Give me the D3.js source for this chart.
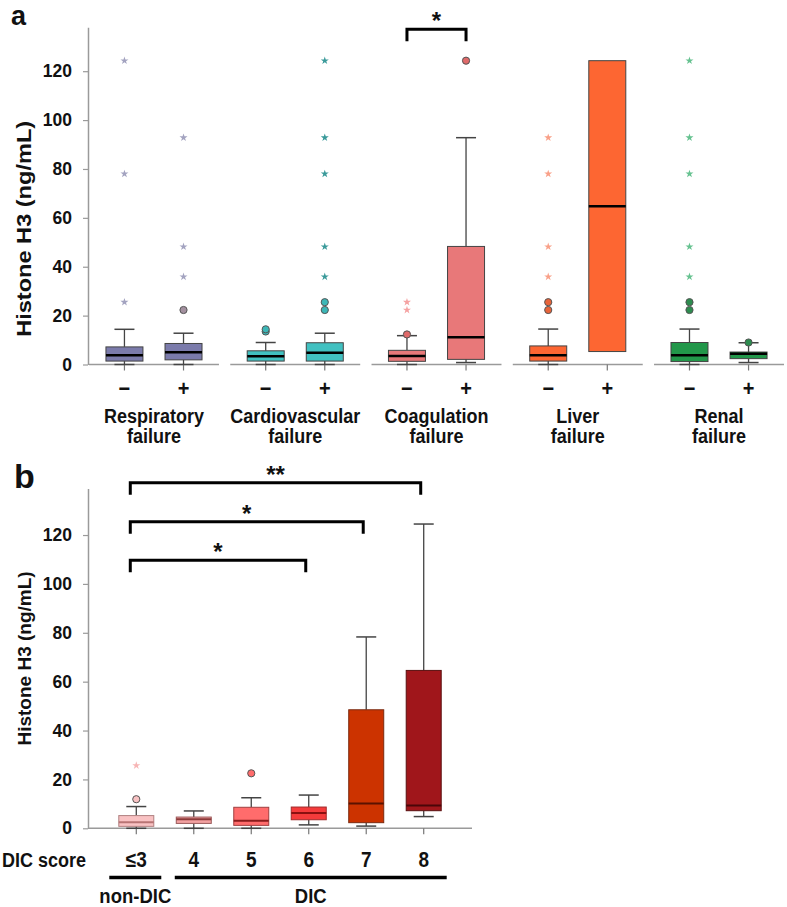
<!DOCTYPE html>
<html>
<head>
<meta charset="utf-8">
<script src="https://cdn.jsdelivr.net/npm/d3@7/dist/d3.min.js"></script>
<style>
  html, body { margin: 0; padding: 0; background: #fff; }
  svg { display: block; font-family: "Liberation Sans", Arial, sans-serif; }
  text { font-weight: bold; fill: #111; }
</style>
</head>
<body>
<svg id="chart" width="787" height="907"></svg>
<script>
// ---------------- Panel a data ----------------
const aGroups = ["Respiratory failure", "Cardiovascular failure", "Coagulation failure", "Liver failure", "Renal failure"];
const aGroupLine1 = ["Respiratory", "Cardiovascular", "Coagulation", "Liver", "Renal"];
const aGroupLine2 = ["failure", "failure", "failure", "failure", "failure"];
const aConditions = ["−", "+"];
// order: Resp-, Resp+, Cardio-, Cardio+, Coag-, Coag+, Liver-, Liver+, Renal-, Renal+
const aWhiskerLow  = [0,    0,    0,    0,    0,    0.8,  0,    5.3,   0,    0.8];
const aQ1          = [1.4,  1.9,  1.4,  1.4,  1.3,  2.1,  1.4,  5.3,   1.2,  2.4];
const aMedian      = [3.8,  5.0,  3.4,  4.8,  3.5,  11.1, 3.8,  64.7,  3.8,  4.4];
const aQ3          = [7.2,  8.6,  5.6,  8.9,  5.8,  48.3, 7.6,  124.3, 9.0,  5.1];
const aWhiskerHigh = [14.4, 12.8, 9.0,  12.8, 11.8, 92.8, 14.5, 124.3, 14.5, 8.9];
const aCircles = [[], [22.3], [13.5, 14.4], [22.3, 25.5], [12.3], [124.3], [22.3, 25.5], [], [22.3, 25.5], [9.0]];
const aStars   = [[25.5, 78, 124.3], [35.9, 48.2, 92.8], [], [35.9, 48.2, 78, 92.8, 124.3], [22.3, 25.5], [], [35.9, 48.2, 78, 92.8], [], [35.9, 48.2, 78, 92.8, 124.3], []];
const aBoxFill    = ["#7b7bab", "#41c1c1", "#e87879", "#fd6632", "#22974a"];
const aCircleFill = ["#a3909f", "#3cb7b7", "#e06a6a", "#e8643a", "#2d8c4f"];
const aStarFill   = ["#a3a3c0", "#3a9a9a", "#f5a2a2", "#f9a088", "#66c290"];
const aYTicks = [0, 20, 40, 60, 80, 100, 120];
const aSig = [{group: "Coagulation failure", from: "−", to: "+", level: 137.2, label: "*"}];

// ---------------- Panel b data ----------------
const bCategories = ["≤3", "4", "5", "6", "7", "8"];
const bWhiskerLow  = [0,   0,   0,    1.4,  0.9,  4.8];
const bQ1          = [0.8, 2.0, 1.2,  3.5,  2.3,  7.2];
const bMedian      = [2.5, 3.7, 3.1,  6.3,  10.1, 9.3];
const bQ3          = [5.2, 4.6, 8.6,  8.7,  48.5, 64.6];
const bWhiskerHigh = [8.9, 7.1, 12.5, 13.6, 78.3, 124.5];
const bCircles = [[11.9], [], [22.5], [], [], []];
const bStars   = [[25.7], [], [], [], [], []];
const bBoxFill    = ["#f9c2c3", "#f2a1a1", "#ff6c6c", "#f43b3b", "#cc3300", "#a0161b"];
const bMedianCol  = ["#b87474", "#8c3a3a", "#8a1c1c", "#8a1010", "#5a1200", "#4a0609"];
const bBoxStroke  = ["#b08080", "#9a5a5a", "#a04040", "#a02a2a", "#7a2a10", "#5a1010"];
const bYTicks = [0, 20, 40, 60, 80, 100, 120];
const bSig = [
  {from: "≤3", to: "8", level: 141.4, label: "**"},
  {from: "≤3", to: "7", level: 125.4, label: "*"},
  {from: "≤3", to: "6", level: 109.7, label: "*"}
];
const bGroupSpans = [{label: "non-DIC", from: "≤3", to: "≤3"}, {label: "DIC", from: "4", to: "8"}];

// ---------------- drawing ----------------
const svg = d3.select("#chart");
const axisGray = "#9a9a9a";
const whiskerCol = "#444";
const vStretch = 1.12;

function label(g, txt, x, y, fs, anchor) {
  return g.append("text").text(txt)
    .attr("transform", `translate(${x},${y}) scale(1,${vStretch})`)
    .attr("text-anchor", anchor || "middle").attr("font-size", fs);
}

function styleYAxis(g) {
  g.select(".domain").attr("stroke", axisGray).attr("stroke-width", 1.5);
  g.selectAll(".tick line").attr("stroke", axisGray).attr("stroke-width", 1.2);
  g.selectAll(".tick text").attr("font-size", 17.5).attr("font-weight", "bold").attr("fill", "#111");
}

function drawBox(g, cx, bw, vals, y, fill, stroke, medCol, medW) {
  const capW = 20;
  if (vals.wh > vals.q3) {
    g.append("line").attr("x1", cx).attr("x2", cx).attr("y1", y(vals.q3)).attr("y2", y(vals.wh)).attr("stroke", whiskerCol).attr("stroke-width", 1.3);
    g.append("line").attr("x1", cx - capW/2).attr("x2", cx + capW/2).attr("y1", y(vals.wh)).attr("y2", y(vals.wh)).attr("stroke", whiskerCol).attr("stroke-width", 1.5);
  }
  if (vals.wl < vals.q1) {
    g.append("line").attr("x1", cx).attr("x2", cx).attr("y1", y(vals.q1)).attr("y2", y(vals.wl)).attr("stroke", whiskerCol).attr("stroke-width", 1.3);
    g.append("line").attr("x1", cx - capW/2).attr("x2", cx + capW/2).attr("y1", y(vals.wl)).attr("y2", y(vals.wl)).attr("stroke", whiskerCol).attr("stroke-width", 1.5);
  }
  g.append("rect").attr("x", cx - bw/2).attr("width", bw)
    .attr("y", y(vals.q3)).attr("height", y(vals.q1) - y(vals.q3))
    .attr("fill", fill).attr("stroke", stroke).attr("stroke-width", 1);
  g.append("line").attr("x1", cx - bw/2).attr("x2", cx + bw/2)
    .attr("y1", y(vals.med)).attr("y2", y(vals.med)).attr("stroke", medCol).attr("stroke-width", medW);
}

function drawOutliers(g, cx, circles, stars, y, cFill, sFill) {
  const star = d3.symbol().type(d3.symbolStar).size(20);
  stars.forEach(v => {
    g.append("path").attr("d", star()).attr("transform", `translate(${cx},${y(v)})`).attr("fill", sFill);
  });
  circles.forEach(v => {
    g.append("circle").attr("cx", cx).attr("cy", y(v)).attr("r", 3.6)
      .attr("fill", cFill).attr("stroke", "#555").attr("stroke-width", 1);
  });
}

// ======== Panel a ========
const yA = d3.scaleLinear().domain([0, 138]).range([364.5, 27.2]);
const xA = d3.scaleBand().domain(aGroups).range([89, 784]).paddingInner(0.08).paddingOuter(0);
const xAin = d3.scalePoint().domain(aConditions).range([0, xA.bandwidth()]).padding(0.6);

const gA = svg.append("g");
const yAxisA = gA.append("g").attr("transform", "translate(88,0)")
  .call(d3.axisLeft(yA).tickValues(aYTicks).tickSizeInner(5).tickSizeOuter(0).tickPadding(11));
styleYAxis(yAxisA);

gA.append("text").text("a").attr("x", 11).attr("y", 25).attr("font-size", 27);

gA.append("text").text("Histone H3 (ng/mL)")
  .attr("transform", `translate(31,${yA(55.5)}) rotate(-90) scale(1.15,1)`)
  .attr("text-anchor", "middle").attr("font-size", 20.5);

aGroups.forEach((grp, gi) => {
  const x0 = xA(grp);
  const y0 = yA(0);
  gA.append("line").attr("x1", x0).attr("x2", x0 + xA.bandwidth()).attr("y1", y0).attr("y2", y0)
    .attr("stroke", axisGray).attr("stroke-width", 1.5);
  aConditions.forEach((cond, ci) => {
    const idx = gi * 2 + ci;
    const cx = x0 + xAin(cond);
    gA.append("line").attr("x1", cx).attr("x2", cx).attr("y1", y0).attr("y2", y0 + 6)
      .attr("stroke", "#777").attr("stroke-width", 1.2);
    drawBox(gA, cx, 37, {wl: aWhiskerLow[idx], q1: aQ1[idx], med: aMedian[idx], q3: aQ3[idx], wh: aWhiskerHigh[idx]},
      yA, aBoxFill[gi], "#444", "#000", 2.5);
    drawOutliers(gA, cx, aCircles[idx], aStars[idx], yA, aCircleFill[gi], aStarFill[gi]);
    label(gA, cond, cx, 396, 20);
  });
  const gc = x0 + xA.bandwidth() / 2;
  label(gA, aGroupLine1[gi], gc, 423, 18);
  label(gA, aGroupLine2[gi], gc, 443, 18);
});

aSig.forEach(s => {
  const x1 = xA(s.group) + xAin(s.from);
  const x2 = xA(s.group) + xAin(s.to);
  const yy = yA(s.level);
  gA.append("path").attr("d", `M${x1},${yy + 12}V${yy}H${x2}V${yy + 12}`)
    .attr("fill", "none").attr("stroke", "#000").attr("stroke-width", 3);
  gA.append("text").text(s.label).attr("x", (x1 + x2) / 2).attr("y", yy).attr("text-anchor", "middle").attr("font-size", 24);
});

// ======== Panel b ========
const yB = d3.scaleLinear().domain([0, 139]).range([828.3, 488.6]);
const xB = d3.scalePoint().domain(bCategories).range([88, 472]).padding(0.84);

const gB = svg.append("g");
const yAxisB = gB.append("g").attr("transform", "translate(88,0)")
  .call(d3.axisLeft(yB).tickValues(bYTicks).tickSizeInner(5).tickSizeOuter(0).tickPadding(11));
styleYAxis(yAxisB);

gB.append("text").text("b").attr("x", 14).attr("y", 488).attr("font-size", 34);

gB.append("text").text("Histone H3 (ng/mL)")
  .attr("transform", `translate(31,${yB(69.5)}) rotate(-90)`)
  .attr("text-anchor", "middle").attr("font-size", 19);

const yb0 = yB(0);
gB.append("line").attr("x1", 88).attr("x2", 472).attr("y1", yb0).attr("y2", yb0)
  .attr("stroke", axisGray).attr("stroke-width", 1.5);

bCategories.forEach((c, i) => {
  const cx = xB(c);
  gB.append("line").attr("x1", cx).attr("x2", cx).attr("y1", yb0).attr("y2", yb0 + 6)
    .attr("stroke", "#777").attr("stroke-width", 1.2);
  drawBox(gB, cx, 35, {wl: bWhiskerLow[i], q1: bQ1[i], med: bMedian[i], q3: bQ3[i], wh: bWhiskerHigh[i]},
    yB, bBoxFill[i], bBoxStroke[i], bMedianCol[i], 2);
  drawOutliers(gB, cx, bCircles[i], bStars[i], yB, bBoxFill[i], "#f7b5b5");
  label(gB, c, cx, 867, 19);
});

label(gB, "DIC score", 86, 867, 18, "end");

bGroupSpans.forEach((s, i) => {
  const x1 = i === 0 ? xB(s.from) - 27 : xB(s.from) - 19;
  const x2 = i === 0 ? xB(s.to) + 25 : xB(s.to) + 23;
  gB.append("line").attr("x1", x1).attr("x2", x2).attr("y1", 877.5).attr("y2", 877.5)
    .attr("stroke", "#000").attr("stroke-width", 3.5);
  label(gB, s.label, (x1 + x2) / 2, 903, 18.5);
});

bSig.forEach(s => {
  const x1 = xB(s.from) - 6;
  const x2 = xB(s.to) - 3;
  const yy = yB(s.level);
  gB.append("path").attr("d", `M${x1},${yy + 12}V${yy}H${x2}V${yy + 12}`)
    .attr("fill", "none").attr("stroke", "#000").attr("stroke-width", 3);
  gB.append("text").text(s.label).attr("x", (x1 + x2) / 2).attr("y", yy).attr("text-anchor", "middle").attr("font-size", 24);
});
</script>
</body>
</html>
